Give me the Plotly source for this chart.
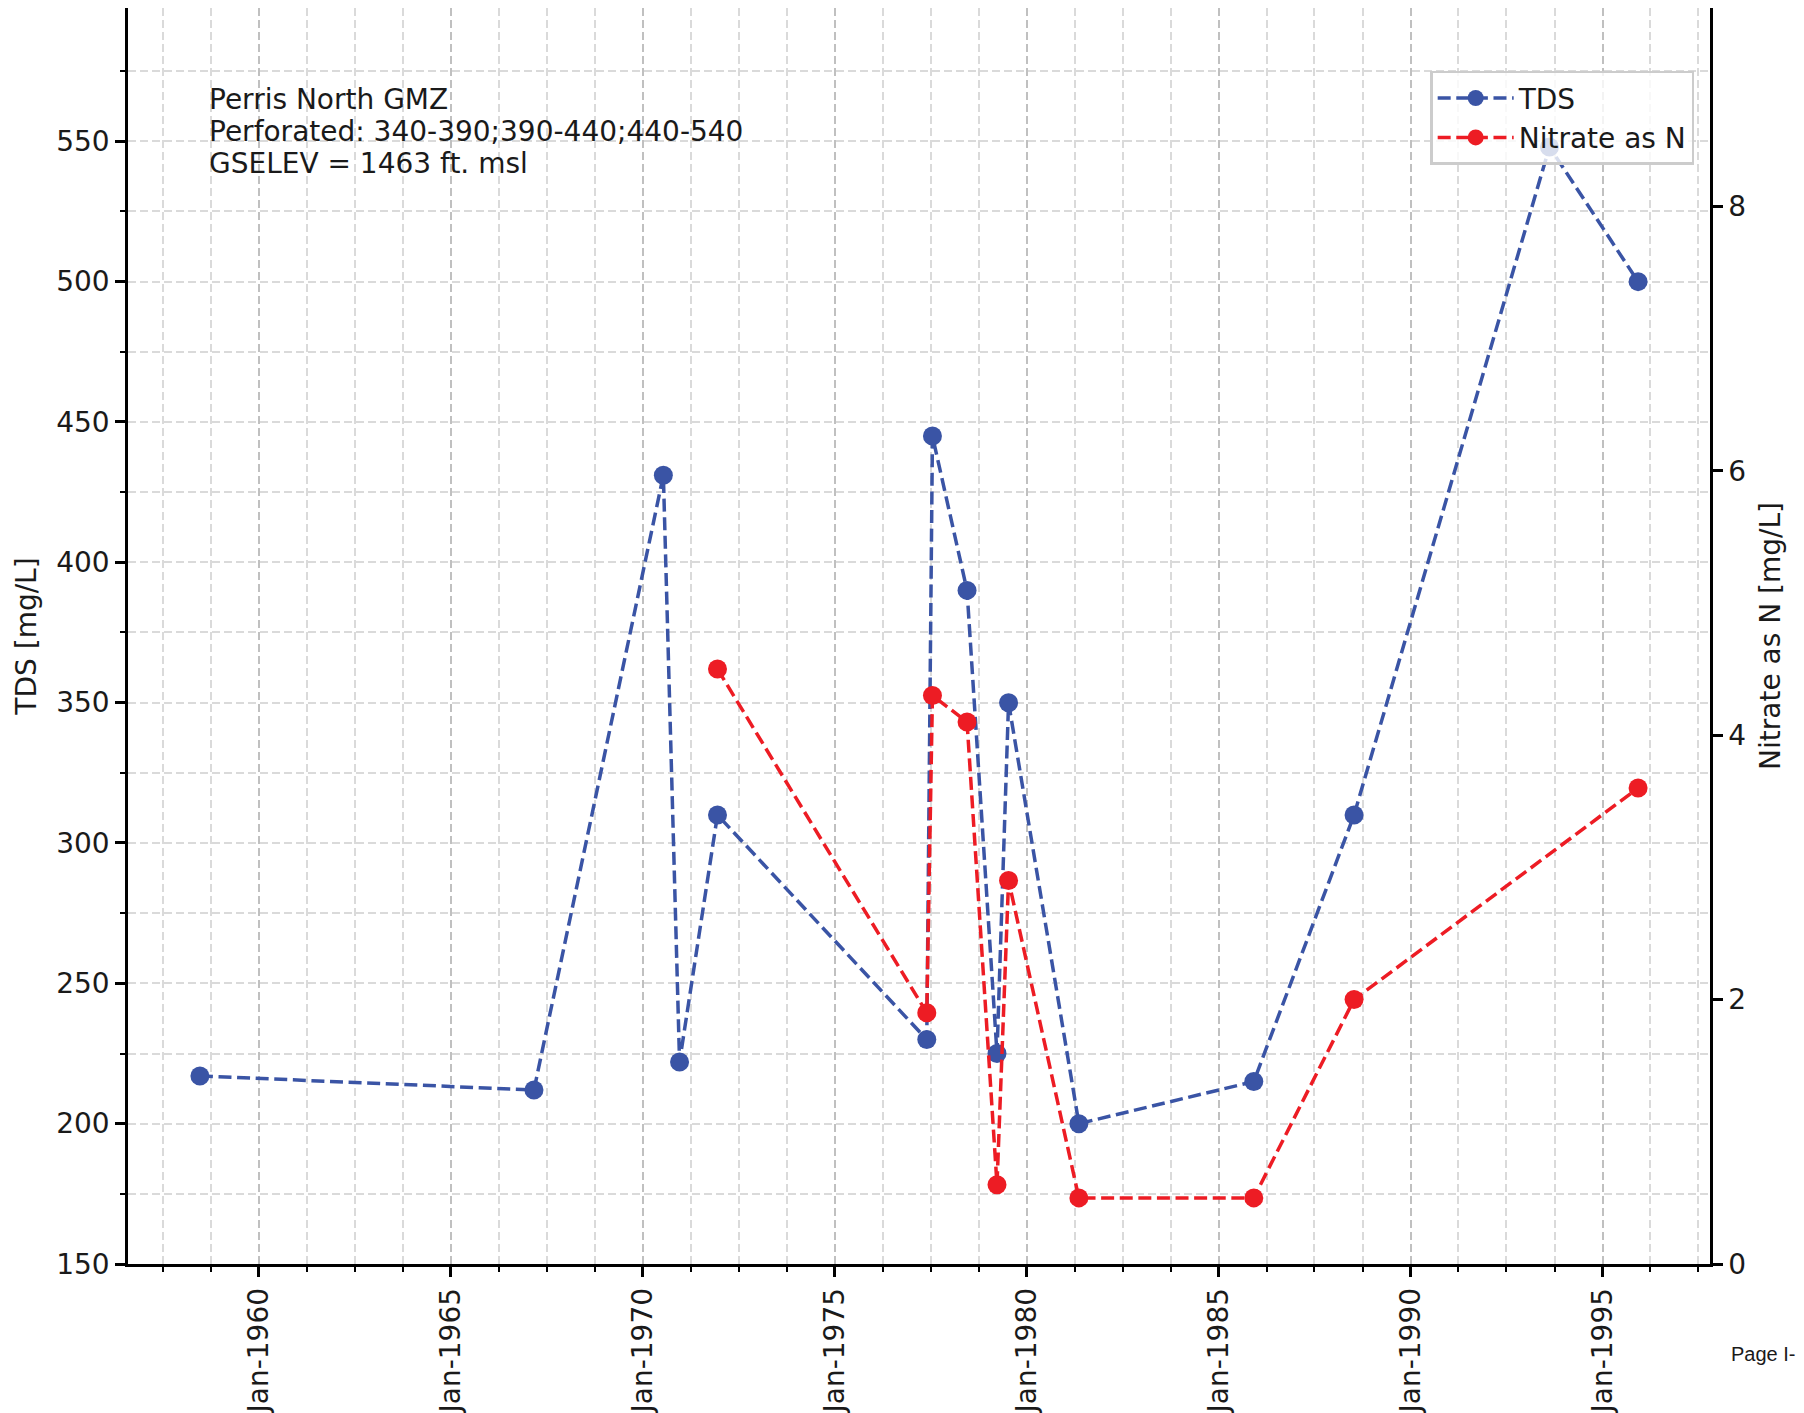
import pandas as pd
import plotly.graph_objects as go

tds_dates = ["1958-06-20", "1967-03-03", "1970-07-16", "1970-12-17", "1971-12-13",
             "1977-05-26", "1977-07-19", "1978-06-13", "1979-03-25", "1979-07-13",
             "1981-05-12", "1985-12-01", "1988-07-12", "1993-08-14", "1995-12-05"]
tds_values = [217, 212, 431, 222, 310, 230, 445, 390, 225, 350, 200, 215, 310, 548, 500]

nitrate_dates = ["1971-12-13", "1977-05-26", "1977-07-19", "1978-06-13", "1979-03-25",
                 "1979-07-13", "1981-05-12", "1985-12-01", "1988-07-12", "1995-12-05"]
nitrate_values = [4.5, 1.9, 4.3, 4.1, 0.6, 2.9, 0.5, 0.5, 2.0, 3.6]

info_lines = ["Perris North GMZ", "Perforated: 340-390;390-440;440-540", "GSELEV = 1463 ft. msl"]

BLUE = "rgb(58,84,165)"
RED = "rgb(237,28,36)"
FONT = "DejaVu Sans"

# matplotlib-style 5% padding on the date axis
all_dates = pd.to_datetime(tds_dates + nitrate_dates)
span = all_dates.max() - all_dates.min()
x_range = [all_dates.min() - 0.05 * span, all_dates.max() + 0.05 * span]

fig = go.Figure()
fig.add_trace(go.Scatter(
    x=pd.to_datetime(tds_dates), y=tds_values, name="TDS", mode="lines+markers",
    line=dict(color=BLUE, width=3.5, dash="13px,5.6px"),
    marker=dict(color=BLUE, size=19)))
fig.add_trace(go.Scatter(
    x=pd.to_datetime(nitrate_dates), y=nitrate_values, name="Nitrate as N", mode="lines+markers",
    yaxis="y2",
    line=dict(color=RED, width=3.5, dash="13px,5.6px"),
    marker=dict(color=RED, size=19)))

axis_common = dict(showline=True, linecolor="black", linewidth=2.5, ticks="outside",
                   ticklen=10, tickwidth=2.5, tickcolor="black", automargin=False,
                   tickfont=dict(family=FONT, size=28, color="#1a1a1a"), zeroline=False)

# page body adds an 8px offset, so the figure is 8px smaller than the window
fig.update_layout(
    width=1796, height=1405, autosize=False,
    margin=dict(l=120, r=94, t=0, b=149),
    plot_bgcolor="white", paper_bgcolor="white",
    font=dict(family=FONT, size=28, color="#1a1a1a"),
    showlegend=True,
    xaxis=dict(
        **axis_common, mirror=True, type="date", range=x_range,
        tick0="1960-01-01", dtick="M60", tickformat="%b-%Y", tickangle=-90,
        showgrid=True, gridcolor="#c0c0c0", gridwidth=2, griddash="8px,4px",
        minor=dict(dtick="M15", tick0="1960-01-01", ticks="outside", ticklen=5,
                   tickwidth=2, tickcolor="black", showgrid=True,
                   gridcolor="#dadada", gridwidth=1.5, griddash="8px,4px"),
    ),
    yaxis=dict(
        **axis_common, range=[150, 597.5], tick0=150, dtick=50,
        title=dict(text="TDS [mg/L]", font=dict(family=FONT, size=28), standoff=12),
        showgrid=True, gridcolor="#dadada", gridwidth=1.5, griddash="8px,4px",
        minor=dict(dtick=25, ticks="outside", ticklen=5, tickwidth=2, tickcolor="black",
                   showgrid=True, gridcolor="#dadada", gridwidth=1.5, griddash="8px,4px"),
    ),
    yaxis2=dict(
        **axis_common, overlaying="y", side="right", range=[0, 9.5], tick0=0, dtick=2,
        showgrid=False,
        title=dict(text="Nitrate as N [mg/L]", font=dict(family=FONT, size=28), standoff=16),
    ),
    legend=dict(
        x=0.99, xanchor="right", y=0.95, yanchor="top",
        bgcolor="rgba(255,255,255,0.8)", bordercolor="#cccccc", borderwidth=2.5,
        font=dict(family=FONT, size=28, color="#1a1a1a"), itemwidth=76,
    ),
)

for i, line in enumerate(info_lines):
    fig.add_annotation(text=line, xref="paper", yref="paper", x=0.05, y=0.9268 - i * 0.0252,
                       xanchor="left", yanchor="middle", showarrow=False,
                       font=dict(family=FONT, size=28, color="#1a1a1a"))

fig.add_annotation(text="Page I-", xref="paper", yref="paper", x=1.012, y=-0.072,
                   xanchor="left", yanchor="middle", showarrow=False,
                   font=dict(family="Liberation Sans", size=20, color="#1a1a1a"))

fig.write_html("out.html")
